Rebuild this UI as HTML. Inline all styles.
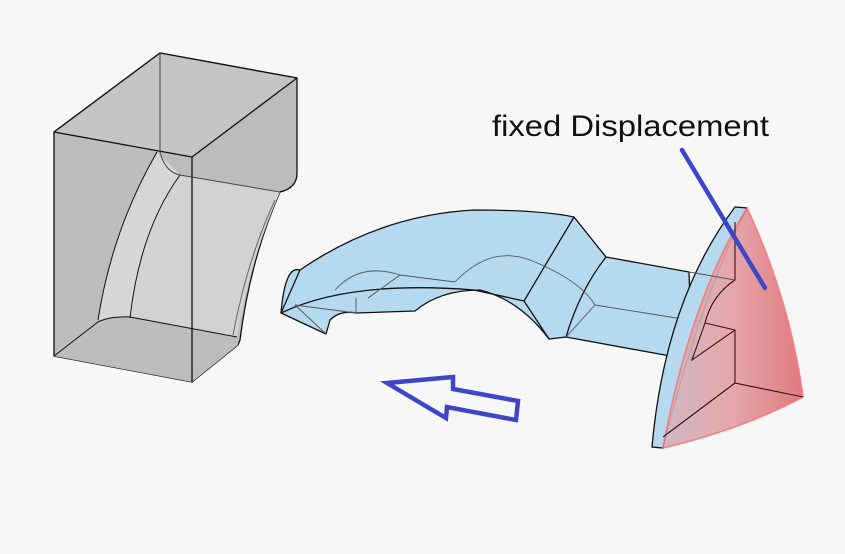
<!DOCTYPE html>
<html><head><meta charset="utf-8"><style>html,body{margin:0;padding:0;background:#f7f7f7}svg{display:block}</style></head>
<body>
<svg width="845" height="554" viewBox="0 0 845 554" xmlns="http://www.w3.org/2000/svg">
<defs>
<linearGradient id="red" x1="0" y1="0" x2="1" y2="0">
<stop offset="0" stop-color="#cdb3c0"/><stop offset="0.5" stop-color="#e4a0a4"/><stop offset="1" stop-color="#de6f74"/></linearGradient>
</defs>
<rect width="845" height="554" fill="#f7f7f7"/>
<!-- grey box -->
<g stroke="#111" stroke-width="1.3" stroke-linejoin="round">
<path d="M54,132 L160,53 L297,78 L297,173 Q297,188 280,192 Q250,260 240,340 L238,345 L192,382 L54,356 Z" fill="#bcbcbc"/>
<path d="M157,152 Q112,230 98,320 L130,318 Q140,230 180,175 Z" fill="#d6d6d6" stroke="none"/>
<path d="M180,175 L280,192 Q250,260 237,337 L130,318 Q140,230 180,175 Z" fill="#d2d2d2" stroke="none"/>
<path d="M54,356 L98,322 Q110,316 130,317 L237,337 L238,345 L192,382 Z" fill="#bcbcbc" stroke="none"/>
<path d="M160,53 L297,78 L192,157 L54,132 Z" fill="#c4c4c4"/>
<path d="M192,157 L192,382" fill="none"/>
<path d="M160,53 L160,152 Q165,172 180,175 L280,192" fill="none" stroke="#444" stroke-width="1"/>
<path d="M157,152 Q112,230 98,320" fill="none" stroke-width="1"/>
<path d="M180,175 Q140,230 130,318" fill="none" stroke-width="1"/>
<path d="M54,356 L98,322 Q110,316 130,317 L237,337" fill="none" stroke-width="1"/>
<path d="M297,173 Q297,188 280,192" fill="none" stroke-width="1"/>
<path d="M275,200 Q247,260 233,335" fill="none" stroke="#666" stroke-width="1"/>
</g>
<!-- blue body -->
<g stroke="#111" stroke-width="1.3" stroke-linejoin="round" fill="#b5d9ee">
<path d="M281,313 Q285,265 300,270 Q380,215 474,210 Q540,210 574,217 L606,257 L689,272 L692,360 L566,337 L549,339 Q520,300 480,290 Q440,290 415,311 L356,313 Q340,310 330,320 L326,334 Z"/>
<path d="M281,313 Q350,280 474,290 L524,301 L574,217 M524,301 L549,339" fill="none"/>
<path d="M606,257 Q580,290 566,337" fill="none"/>
<path d="M300,270 L281,313" fill="none"/>
<path d="M295,305 L326,334 M295,305 L356,313 M356,313 L356,298 M400,275 L455,282 M400,275 L368,298 M335,290 Q360,262 400,275" fill="none" stroke="#555" stroke-width="0.9"/>
<path d="M455,282 Q490,245 530,260 Q580,280 595,305 L689,320 M595,305 L566,337" fill="none" stroke="#555" stroke-width="0.9"/>
</g>
<!-- plate -->
<path d="M735,207 L747,208 Q700,300 663,448 L652,447 Q665,300 735,207 Z" fill="#b5d9ee" stroke="#111" stroke-width="1.3"/>
<path d="M747,208 Q790,300 803,397 Q740,430 663,448 Q690,300 747,208 Z" fill="url(#red)" stroke="#ff7070" stroke-width="1.5" opacity="0.92"/>
<g stroke="#3a1010" stroke-width="1.1" fill="none">
<path d="M735,222 L735,280 Q712,295 705,323 L692,360 L735,330 L735,383 L803,397 M705,323 L735,330 M735,383 L663,437"/>
<path d="M689,272 L735,280" stroke="#555"/>
</g>
<!-- arrow -->
<polygon points="387,383 453,377 453,389 518,401 516,420 447,407 446,418" fill="none" stroke="#3d45c8" stroke-width="4.5" stroke-linejoin="miter"/>
<!-- pointer -->
<line x1="682" y1="150" x2="765" y2="288" stroke="#3d45c8" stroke-width="4.5" stroke-linecap="round"/>
<text x="492" y="136" font-family="Liberation Sans, sans-serif" font-size="30" fill="#111" textLength="277" lengthAdjust="spacingAndGlyphs">fixed Displacement</text>
</svg>
</body></html>
